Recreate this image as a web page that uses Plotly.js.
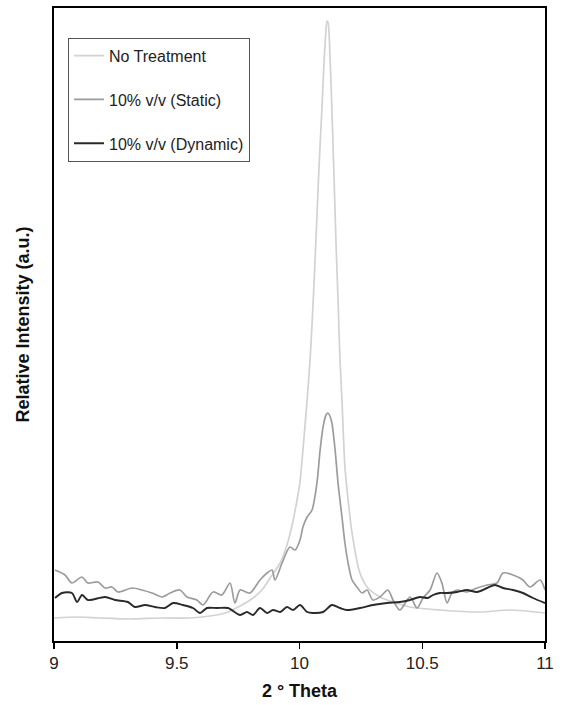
<!DOCTYPE html>
<html>
<head>
<meta charset="utf-8">
<script src="https://cdn.plot.ly/plotly-3.0.1.min.js"></script>
<style>html,body{margin:0;padding:0;background:#fff;}#chart{width:568px;height:705px;}</style>
</head>
<body>
<div id="chart"></div>
<script>
// 2-theta values and relative intensities (a.u.)
const noTreatX = [9.000,9.106,9.187,9.310,9.432,9.554,9.635,9.697,9.758,9.811,9.847,9.880,9.921,9.949,9.970,9.990,10.002,10.014,10.031,10.043,10.055,10.067,10.079,10.092,10.100,10.108,10.112,10.116,10.124,10.132,10.141,10.149,10.157,10.165,10.173,10.185,10.198,10.214,10.246,10.279,10.328,10.381,10.450,10.572,10.735,10.857,11.000];
const noTreatY = [23,24,23,22,23,23,25,28,35,43,51,63,78,96,116,141,159,191,241,281,336,401,471,536,579,611,620,619,586,531,461,396,341,281,241,174,141,108,68,53,44,39,34,31,29,31,28];

const staticX = [9.004,9.045,9.073,9.114,9.138,9.179,9.208,9.236,9.261,9.318,9.358,9.399,9.440,9.473,9.513,9.542,9.582,9.607,9.648,9.684,9.717,9.737,9.758,9.798,9.839,9.868,9.888,9.900,9.929,9.961,9.982,10.002,10.014,10.031,10.051,10.071,10.084,10.096,10.108,10.116,10.124,10.132,10.145,10.157,10.173,10.185,10.198,10.214,10.234,10.255,10.275,10.299,10.328,10.360,10.381,10.409,10.450,10.479,10.503,10.532,10.560,10.580,10.601,10.621,10.642,10.682,10.723,10.764,10.804,10.829,10.870,10.910,10.939,10.980,11.000];
const staticY = [71,66,58,64,58,59,53,54,49,53,51,48,44,48,51,44,41,36,49,46,58,38,51,48,61,68,71,61,78,94,91,101,114,124,131,158,191,214,226,228,225,218,191,158,124,98,78,61,54,48,51,41,44,51,41,31,44,33,43,51,68,58,38,48,51,49,53,56,58,68,66,61,54,61,51];

const dynamicX = [9.004,9.033,9.073,9.094,9.114,9.138,9.208,9.248,9.301,9.330,9.371,9.411,9.452,9.485,9.525,9.566,9.595,9.623,9.664,9.709,9.758,9.786,9.811,9.839,9.868,9.892,9.921,9.949,9.974,10.002,10.031,10.055,10.096,10.132,10.165,10.193,10.246,10.299,10.356,10.409,10.450,10.491,10.523,10.544,10.572,10.601,10.642,10.682,10.723,10.764,10.796,10.829,10.870,10.910,10.951,11.000];
const dynamicY = [43,48,48,39,46,41,44,41,39,34,36,34,33,38,36,33,28,33,33,33,26,29,26,33,28,31,29,34,31,36,29,28,29,36,33,31,33,36,38,39,41,44,43,46,48,48,49,51,49,53,56,53,51,48,43,38];

const seriesNames = ["No Treatment", "10% v/v (Static)", "10% v/v (Dynamic)"];
const xTicks = [9, 9.5, 10, 10.5, 11];

const font = "Liberation Sans, Arial, sans-serif";

const traces = [
  {x: noTreatX, y: noTreatY, name: seriesNames[0], legendgroup: "a", mode: "lines",
   line: {color: "#d2d2d2", width: 1.7, shape: "spline", smoothing: 0.8}},
  {x: staticX, y: staticY, name: seriesNames[1], legendgroup: "b", mode: "lines",
   line: {color: "#9c9c9c", width: 1.7, shape: "spline", smoothing: 0.8}},
  {x: dynamicX, y: dynamicY, name: seriesNames[2], legendgroup: "c", mode: "lines",
   line: {color: "#2a2a2a", width: 1.9, shape: "spline", smoothing: 0.8}}
];

const layout = {
  width: 568, height: 705,
  margin: {l: 54, r: 23, t: 8, b: 64},
  paper_bgcolor: "#fff", plot_bgcolor: "#fff",
  font: {family: font, color: "#222"},
  showlegend: true,
  legend: {
    x: 0.0285, y: 0.953, xanchor: "left", yanchor: "top",
    bordercolor: "#555", borderwidth: 1, bgcolor: "#fff",
    font: {family: font, size: 16, color: "#222"},
    tracegroupgap: 20, traceorder: "grouped", itemwidth: 30
  },
  xaxis: {
    range: [9, 11], tickvals: xTicks, ticktext: xTicks.map(String),
    ticks: "outside", ticklen: 6, tickwidth: 1.5, tickcolor: "#000",
    showline: true, linecolor: "#000", linewidth: 2, mirror: true,
    showgrid: false, zeroline: false,
    tickfont: {family: font, size: 17, color: "#222"},
    title: {text: "<b>2 ° Theta</b>", font: {family: font, size: 18, color: "#111"}, standoff: 12}
  },
  yaxis: {
    range: [0, 633], showticklabels: false, ticks: "",
    showline: true, linecolor: "#000", linewidth: 2, mirror: true,
    showgrid: false, zeroline: false,
    title: {text: "<b>Relative Intensity (a.u.)</b>", font: {family: font, size: 18, color: "#111"}, standoff: 18}
  }
};

Plotly.newPlot("chart", traces, layout, {staticPlot: true, displayModeBar: false});
</script>
</body>
</html>
